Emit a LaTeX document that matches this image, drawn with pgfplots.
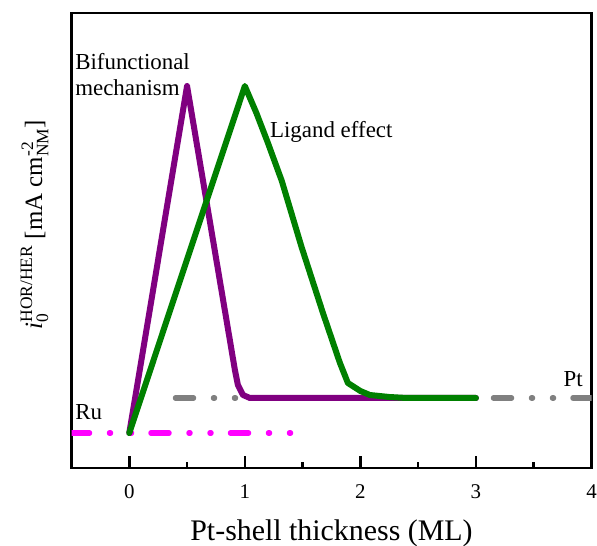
\documentclass[border=0pt]{standalone}
\usepackage{pgfplots}
\pgfplotsset{compat=1.18}
\usepackage{amsmath}
\usepackage{fontspec}
\setmainfont{Liberation Serif}
\definecolor{cpurple}{RGB}{128,0,128}
\definecolor{cgreen}{RGB}{0,128,0}
\definecolor{cmag}{RGB}{255,0,255}
\definecolor{cgray}{RGB}{128,128,128}
\begin{document}
\begin{tikzpicture}
\begin{axis}[
  at={(71.5bp,78bp)}, anchor=south west,
  scale only axis, width=520bp, height=455bp,
  xmin=-0.5, xmax=4, ymin=0, ymax=455,
  xtick={0,1,2,3,4}, xticklabels={0,1,2,3,4},
  minor xtick={0.5,1.5,2.5,3.5},
  ytick=\empty,
  xtick pos=left, tick align=inside,
  major tick length=12bp, minor tick length=6bp,
  tick style={black, line width=2.5bp},
  axis line style={line width=2.5bp, black},
  xticklabel style={font=\fontsize{21}{24}\selectfont, yshift=-13bp},
  xlabel={Pt-shell thickness (ML)},
  xlabel style={at={(axis description cs:0.5,0)}, anchor=base, yshift=-72bp, font=\fontsize{30}{34}\selectfont},
  ylabel={$\textit{i}_{\text{0}}^{\text{HOR/HER}}$ [mA cm$^{\text{-2}}_{\text{NM}}$]},
  ylabel style={at={(axis description cs:-0.071,0.535)}, anchor=center, font=\fontsize{25}{29}\selectfont},
  clip=true,
]
% Pt reference line
\addplot[cgray, line width=5.5bp, line cap=round, dash pattern=on 18bp off 20bp on 1bp off 20bp on 1bp off 19.5bp]
  coordinates {(0.4,70) (4.05,70)};
% Ru reference line
\addplot[cmag, line width=5.5bp, line cap=round, dash pattern=on 18bp off 20bp on 1bp off 20bp on 1bp off 19.5bp]
  coordinates {(-0.5,35) (1.41,35)};
% Bifunctional mechanism
\addplot[cpurple, line width=6bp, line join=round, line cap=round]
  coordinates {(0,35) (0.5,382) (0.914,98) (0.94,83) (0.984,73) (1.044,70) (3.0,70)};
% Ligand effect
\addplot[cgreen, line width=6bp, line join=round, line cap=round]
  coordinates {(0,35) (1.0,382) (1.1,355) (1.2,325) (1.32,287) (1.491,221) (1.676,155) (1.823,105) (1.892,85) (2.0,77) (2.082,73) (2.25,71) (2.402,70) (3.0,70)};
% tick marks (bottom, inward)
\draw[black, line width=2.5bp] (axis cs:0,0) -- ++(0pt,12bp);
\draw[black, line width=2.5bp] (axis cs:1,0) -- ++(0pt,12bp);
\draw[black, line width=2.5bp] (axis cs:2,0) -- ++(0pt,12bp);
\draw[black, line width=2.5bp] (axis cs:3,0) -- ++(0pt,12bp);
\draw[black, line width=2.5bp] (axis cs:0.5,0) -- ++(0pt,6bp);
\draw[black, line width=2.5bp] (axis cs:1.5,0) -- ++(0pt,6bp);
\draw[black, line width=2.5bp] (axis cs:2.5,0) -- ++(0pt,6bp);
\draw[black, line width=2.5bp] (axis cs:3.5,0) -- ++(0pt,6bp);
\node[anchor=base west, font=\fontsize{23}{26}\selectfont, inner sep=0pt] at (axis cs:-0.469,398) {Bifunctional};
\node[anchor=base west, font=\fontsize{23}{26}\selectfont, inner sep=0pt] at (axis cs:-0.469,372) {mechanism};
\node[anchor=base west, font=\fontsize{23}{26}\selectfont, inner sep=0pt] at (axis cs:1.217,330) {Ligand effect};
\node[anchor=base west, font=\fontsize{23}{26}\selectfont, inner sep=0pt] at (axis cs:-0.469,48) {Ru};
\node[anchor=base east, font=\fontsize{23}{26}\selectfont, inner sep=0pt] at (axis cs:3.925,81) {Pt};
\end{axis}
\pgfresetboundingbox
\useasboundingbox (0,0) rectangle (597bp,546bp);
\end{tikzpicture}
\end{document}
